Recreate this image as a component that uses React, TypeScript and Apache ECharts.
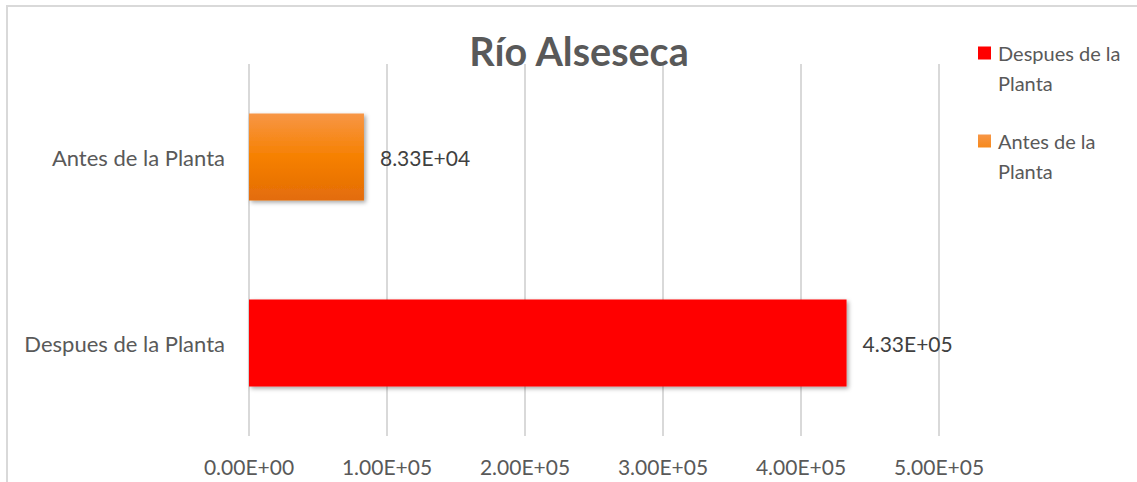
import React, { useEffect, useRef } from "react";
import * as echarts from "echarts";

const categories = ["Despues de la Planta", "Antes de la Planta"];
const seriesNames = ["Despues de la Planta", "Antes de la Planta"];
const despuesValues = [433000, null];
const antesValues = [null, 83300];

const FONT = "Lato, 'Open Sans', sans-serif";

function sci(v: number): string {
  const s = v.toExponential(2).toUpperCase();
  const m = s.match(/^(-?[\d.]+)E([+-])(\d+)$/);
  if (!m) return s;
  return m[1] + "E" + m[2] + m[3].padStart(2, "0");
}

const orangeGrad = new echarts.graphic.LinearGradient(0, 0, 0, 1, [
  { offset: 0, color: "#F79646" },
  { offset: 0.5, color: "#F68000" },
  { offset: 1, color: "#E36C09" },
]);

// legend marker: 13x13 square at the top of a 13x43 box (so it lines up with the first text line)
const LEGEND_ICON = "path://M0,0H13V13H0Z M6,43L7,43L6.5,42.99Z";

export default function App() {
  const ref = useRef<HTMLDivElement>(null);
  useEffect(() => {
    if (!ref.current) return;
    const chart = echarts.init(ref.current, null, { renderer: "svg" });
    const labelStyle = {
      show: true,
      position: "right" as const,
      distance: 16,
      color: "#404040",
      fontSize: 21,
      fontFamily: FONT,
      formatter: (p: any) => sci(p.value),
    };
    const shadow = {
      shadowBlur: 4,
      shadowOffsetX: 2,
      shadowOffsetY: 2,
      shadowColor: "rgba(0,0,0,0.35)",
    };
    chart.setOption({
      animation: false,
      backgroundColor: "#ffffff",
      title: {
        text: "Río Alseseca",
        left: 574,
        textAlign: "center",
        top: 25,
        textStyle: { fontSize: 39.5, fontWeight: "bold", color: "#595959", fontFamily: FONT },
      },
      legend: {
        orient: "vertical",
        left: 978,
        top: 38,
        padding: 0,
        itemWidth: 13,
        itemHeight: 43,
        itemGap: 28,
        icon: LEGEND_ICON,
        data: seriesNames,
        formatter: (n: string) => n.replace(" de la ", " de la\n"),
        textStyle: { fontSize: 20, color: "#595959", fontFamily: FONT, lineHeight: 30, padding: [0, 0, 0, 2] },
      },
      grid: { left: 249, right: 198, top: 64, bottom: 46 },
      xAxis: {
        type: "value",
        min: 0,
        max: 500000,
        interval: 100000,
        axisLine: { show: false },
        axisTick: { show: false },
        splitLine: { lineStyle: { color: "#D9D9D9", width: 2 } },
        axisLabel: {
          color: "#595959",
          fontSize: 21,
          fontFamily: FONT,
          margin: 20,
          formatter: (v: number) => sci(v),
        },
      },
      yAxis: {
        type: "category",
        data: categories,
        axisLine: { show: false },
        axisTick: { show: false },
        axisLabel: { color: "#595959", fontSize: 22, fontFamily: FONT, margin: 24 },
      },
      series: [
        {
          name: seriesNames[0],
          type: "bar",
          stack: "s",
          barWidth: 87,
          data: despuesValues,
          itemStyle: { color: "#FF0000", ...shadow },
          label: labelStyle,
        },
        {
          name: seriesNames[1],
          type: "bar",
          stack: "s",
          barWidth: 87,
          data: antesValues,
          itemStyle: { color: orangeGrad, ...shadow },
          label: labelStyle,
        },
      ],
      graphic: [
        {
          type: "rect",
          shape: { x: 7, y: 6, width: 1300, height: 700 },
          style: { fill: "none", stroke: "#D9D9D9", lineWidth: 2 },
          silent: true,
        },
      ],
    });
    return () => chart.dispose();
  }, []);
  return (
    <div
      ref={ref}
      style={{ position: "absolute", left: 0, top: 0, width: 1137, height: 482 }}
    />
  );
}
